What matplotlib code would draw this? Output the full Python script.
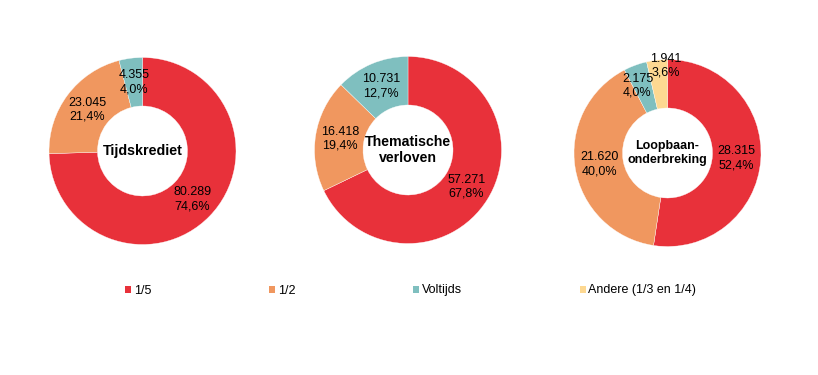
import matplotlib
matplotlib.use('Agg')
import matplotlib.pyplot as plt
import numpy as np
from matplotlib.patches import Patch

plt.rcParams['font.family'] = ['Liberation Sans', 'DejaVu Sans']

# ---- data ----
categories = ['1/5', '1/2', 'Voltijds', 'Andere (1/3 en 1/4)']
colors = ['#E8313A', '#F0975F', '#7FBFBF', '#FDD891']

titles = ['Tijdskrediet', 'Thematische\nverloven', 'Loopbaan-\nonderbreking']
tijdskrediet = [80289, 23045, 4355]
thematisch = [57271, 16418, 10731]
loopbaan = [28315, 21620, 2175, 1941]
series = [tijdskrediet, thematisch, loopbaan]

# ---- layout (pixels, image y from top) ----
W, H = 818, 375
centers = [(142.5, 151), (408, 150), (667.5, 153)]
R_OUT = 93.5
R_IN = 45
title_sizes = [10.3, 10.2, 9]
# value label placement: (fraction of outer radius, angle nudge in degrees)
label_pos = [
    [(0.74, 0), (0.74, 0), (0.74, 0)],
    [(0.74, 0), (0.74, 0), (0.74, 0)],
    [(0.74, 0), (0.74, 0), (0.785, 4), (0.93, -5.5)],
]


def fmt_num(v):
    return f"{v:,}".replace(',', '.')


def fmt_pct(p):
    return f"{p:.1f}%".replace('.', ',')


fig = plt.figure(figsize=(W / 100, H / 100), dpi=100)
ax = fig.add_axes([0, 0, 1, 1])

for vals, title, (cx, cy), ts, lp in zip(series, titles, centers, title_sizes, label_pos):
    cy = H - cy
    wedges, _ = ax.pie(vals, colors=colors[:len(vals)], startangle=90, counterclock=False,
                       radius=R_OUT, center=(cx, cy), frame=True,
                       wedgeprops=dict(width=R_OUT - R_IN, edgecolor='white', linewidth=0.25))
    total = sum(vals)
    for w, v, (f, nudge) in zip(wedges, vals, lp):
        mid = np.radians((w.theta1 + w.theta2) / 2 + nudge)
        x = cx + f * R_OUT * np.cos(mid)
        y = cy + f * R_OUT * np.sin(mid)
        ax.text(x, y, fmt_num(v) + '\n' + fmt_pct(100 * v / total), ha='center', va='center',
                fontsize=9, color='black', linespacing=1.2)
    ax.text(cx, cy, title, ha='center', va='center', fontsize=ts, fontweight='bold',
            color='black', linespacing=1.2)

ax.set_xlim(0, W)
ax.set_ylim(0, H)
ax.set_aspect('equal')
ax.axis('off')

handles = [Patch(facecolor=c, edgecolor='none') for c in colors]
fig.legend(handles, categories, ncol=4, loc='center left',
           bbox_to_anchor=(125 / W, 1 - 290.5 / H), frameon=False,
           handlelength=0.5, handleheight=0.5, handletextpad=0.2,
           columnspacing=9.42, borderpad=0, borderaxespad=0, fontsize=9)

fig.savefig('out.png', dpi=100, facecolor='white')
